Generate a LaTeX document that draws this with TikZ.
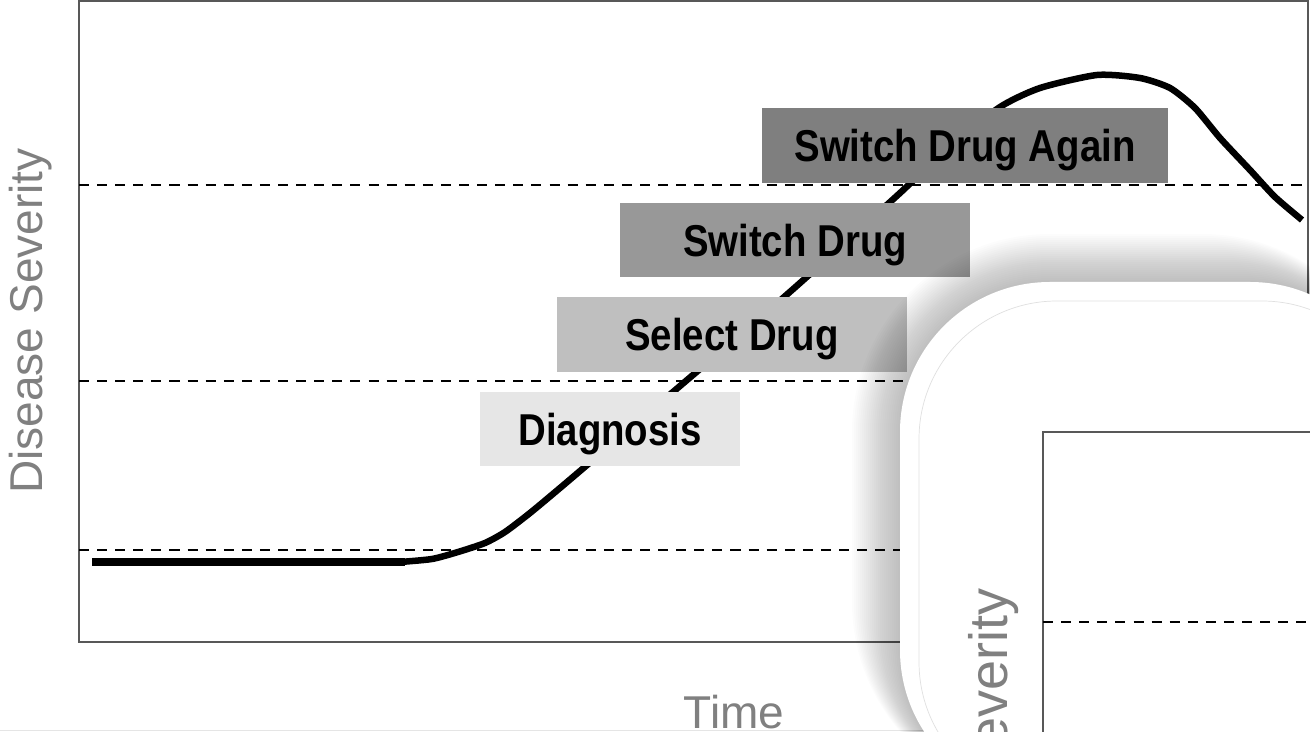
\documentclass[tikz,border=0pt]{standalone}
\usepackage{fontspec}
\setmainfont{Liberation Sans}
\newfontfamily\stagefont{Liberation Sans}[FakeStretch=0.86]
\usepackage{xcolor}
\definecolor{diagGrey}{HTML}{E6E6E6}
\definecolor{selectGrey}{HTML}{BFBFBF}
\definecolor{switchGrey}{HTML}{989898}
\definecolor{againGrey}{HTML}{7F7F7F}
\definecolor{frameGrey}{HTML}{585858}
\definecolor{labelGrey}{HTML}{808080}
\usetikzlibrary{positioning}

\begin{document}
\begin{tikzpicture}[x=0.02cm,y=-0.02cm,
  stage/.style={font=\stagefont\bfseries\fontsize{25.4}{28}\selectfont,inner sep=0pt,
    text height=18.3pt,text depth=0pt},
  level/.style={black,line width=1.6pt,dash pattern=on 5.7pt off 4.6pt},
  axislabel/.style={labelGrey,font=\fontsize{26.2}{30}\selectfont,inner sep=0pt}]
\useasboundingbox (0,0) rectangle (1310,732);
\clip (0,0) rectangle (1310,732);

% main plot
\draw[frameGrey,line width=1.1pt] (79,1) rectangle (1308,642);
\draw[level] (79,185) -- (1308,185);
\draw[level] (79,381) -- (1308,381);
\draw[level] (79,550) -- (1308,550);
\draw[line width=4.3pt] (92,562) -- (405,562);
\draw[line width=3.7pt] plot[smooth,tension=0.4] coordinates {(400,562) (432,559)
  (458,552) (485,543) (505,532) (530,513) (560,488) (600,454) (640,420) (680,386) (720,352)
  (760,318) (800,283) (850,238) (900,193) (950,146) (1000,107) (1040,88) (1097,75) (1140,78)
  (1170,88) (1195,108) (1220,138) (1250,170) (1275,197) (1302,220)};

\node[stage,fill=diagGrey,minimum width=5.2cm,minimum height=1.48cm] (diag) at (610,429) {Diagnosis};
\node[stage,fill=selectGrey,minimum width=7cm,minimum height=1.5cm] (select) at (732,334.5) {Select Drug};
\node[stage,fill=switchGrey,minimum width=7cm,minimum height=1.48cm] (switch) at (795,240) {Switch Drug};
\node[stage,fill=againGrey,minimum width=8.12cm,minimum height=1.5cm] (again) at (965,145.5) {Switch Drug Again};

\node[axislabel,rotate=90,anchor=base] (severity) at (42,321) {Disease Severity};
\node[axislabel,anchor=base] (time) at (734,728) {Time};
\draw[black!10,line width=0.5pt] (0,730) -- (1310,730);

% zoomed panel
\foreach \i in {1,...,24} {
  \pgfmathsetmacro\rad{3+0.04*\i}
  \fill[black,opacity=0.011,rounded corners=\rad cm] (900-2*\i,282-2*\i) rectangle (1400,800);
}
\fill[white,rounded corners=3cm] (900,282) rectangle (1400,800);
\draw[black!12,line width=0.4pt,rounded corners=2.76cm] (919,301) rectangle (1400,800);

\draw[frameGrey,line width=1.1pt] (1043,800) -- (1043,432) -- (1400,432);
\draw[level] (1043,622) -- (1400,622);
\node[axislabel,font=\fontsize{30.7}{34}\selectfont,rotate=90,anchor=base east] (zoomseverity) at (1007,588) {Disease Severity};
\end{tikzpicture}
\end{document}
